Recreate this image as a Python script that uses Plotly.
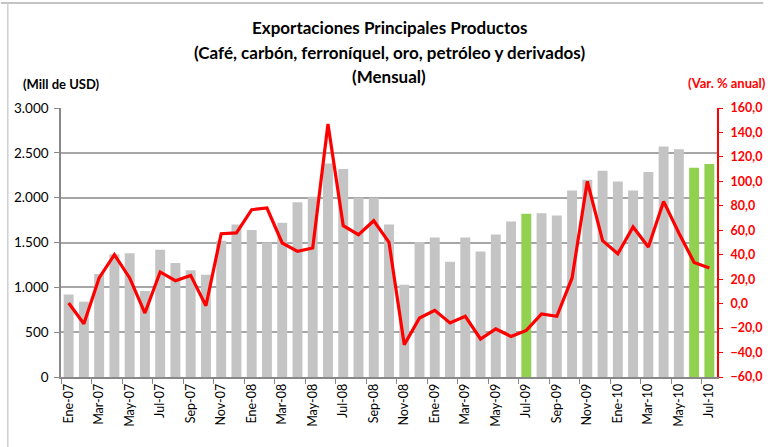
import plotly.graph_objects as go

categories = [
    "Ene-07", "Feb-07", "Mar-07", "Abr-07", "May-07", "Jun-07", "Jul-07", "Ago-07", "Sep-07", "Oct-07", "Nov-07", "Dic-07",
    "Ene-08", "Feb-08", "Mar-08", "Abr-08", "May-08", "Jun-08", "Jul-08", "Ago-08", "Sep-08", "Oct-08", "Nov-08", "Dic-08",
    "Ene-09", "Feb-09", "Mar-09", "Abr-09", "May-09", "Jun-09", "Jul-09", "Ago-09", "Sep-09", "Oct-09", "Nov-09", "Dic-09",
    "Ene-10", "Feb-10", "Mar-10", "Abr-10", "May-10", "Jun-10", "Jul-10",
]

export_values = [
    920, 840, 1150, 1370, 1380, 960, 1420, 1270, 1190, 1140, 1520, 1700,
    1640, 1500, 1720, 1950, 2010, 2380, 2320, 2000, 2000, 1700, 1030, 1505,
    1555, 1285, 1555, 1400, 1590, 1735, 1820, 1825, 1800, 2080, 2200, 2300,
    2180, 2080, 2285, 2570, 2540, 2335, 2375,
]

annual_var = [
    0.5, -16.4, 21.0, 40.0, 21.0, -7.7, 25.9, 18.8, 23.1, -1.7, 57.2, 57.8,
    76.8, 78.2, 49.6, 42.7, 45.5, 146.9, 63.7, 56.4, 67.8, 50.1, -33.6, -11.8,
    -5.5, -15.8, -10.4, -28.9, -20.7, -26.8, -21.9, -8.5, -10.4, 21.0, 100.0, 51.5,
    40.8, 62.7, 46.3, 83.6, 57.8, 33.7, 29.1,
]

highlighted = ["Jul-09", "Jun-10", "Jul-10"]

GRAY = "#c4c4c4"
GREEN = "#92d050"
bar_colors = [GREEN if c in highlighted else GRAY for c in categories]

FONT = "Lato"

fig = go.Figure()
fig.add_trace(go.Bar(
    x=categories, y=export_values, marker=dict(color=bar_colors, line=dict(width=0)),
    yaxis="y", showlegend=False, hoverinfo="x+y",
))
fig.add_trace(go.Scatter(
    x=categories, y=annual_var, mode="lines", line=dict(color="#ff0000", width=3.2),
    yaxis="y2", showlegend=False,
))

def py(pix):
    return (377 - pix) / 269.0

def px(pix):
    return (pix - 61) / 666.0

annotations = [
    dict(text="<b>Exportaciones Principales Productos</b>", x=0.5, xref="paper", y=py(27), yref="paper",
         xanchor="center", yanchor="middle", showarrow=False, font=dict(family=FONT, size=17, color="#000")),
    dict(text="<b>(Café, carbón, ferroníquel, oro, petróleo y derivados)</b>", x=0.5, xref="paper", y=py(52), yref="paper",
         xanchor="center", yanchor="middle", showarrow=False, font=dict(family=FONT, size=17, color="#000")),
    dict(text="<b>(Mensual)</b>", x=0.5, xref="paper", y=py(76), yref="paper",
         xanchor="center", yanchor="middle", showarrow=False, font=dict(family=FONT, size=17, color="#000")),
    dict(text="<b>(Mill de USD)</b>", x=px(20), xref="paper", y=py(84), yref="paper",
         xanchor="left", yanchor="middle", showarrow=False, font=dict(family=FONT, size=13, color="#000")),
    dict(text="<b>(Var. % anual)</b>", x=px(696), xref="paper", y=py(83), yref="paper",
         xanchor="left", yanchor="middle", showarrow=False, font=dict(family=FONT, size=13, color="#ff0000")),
]

shapes = [
    dict(type="line", xref="paper", yref="paper", x0=px(0), x1=px(774), y0=py(3), y1=py(3),
         line=dict(color="#b0b0b0", width=1.5)),
    dict(type="line", xref="paper", yref="paper", x0=px(7), x1=px(7), y0=py(3), y1=py(447),
         line=dict(color="#d0d0d0", width=1.5)),
]

fig.update_layout(
    width=774, height=447,
    margin=dict(l=61, r=47, t=108, b=70),
    paper_bgcolor="white", plot_bgcolor="white",
    separators=",.",
    bargap=0.35,
    font=dict(family=FONT, size=13, color="#000"),
    xaxis=dict(
        type="category", tickmode="linear", dtick=2, tick0=0, tickson="boundaries",
        tickangle=-90, ticks="outside", ticklen=5, tickcolor="#888888",
        showline=True, linecolor="#888888", linewidth=1.5, showgrid=False,
        tickfont=dict(family=FONT, size=12.5, color="#000"),
    ),
    yaxis=dict(
        range=[0, 3000], dtick=500, tickformat=",d", showgrid=True,
        gridcolor="#a6a6a6", gridwidth=1.5, zeroline=False,
        showline=True, linecolor="#888888", linewidth=1.5,
        ticks="outside", ticklen=5, tickcolor="#888888", ticklabelstandoff=3,
        tickfont=dict(family=FONT, size=13.5, color="#000"),
    ),
    yaxis2=dict(
        range=[-60, 160], dtick=20, tickformat=".1f", overlaying="y", side="right",
        showgrid=False, zeroline=False, showline=True, linecolor="#ff0000", linewidth=2,
        ticks="outside", ticklen=4, tickcolor="#ff0000", ticklabelstandoff=5,
        tickfont=dict(family=FONT, size=12.5, color="#ff0000", weight="bold"),
    ),
    annotations=annotations,
    shapes=shapes,
)

fig.write_html("out.html", config={"displayModeBar": False},
               post_script="document.body.style.margin='0';")
